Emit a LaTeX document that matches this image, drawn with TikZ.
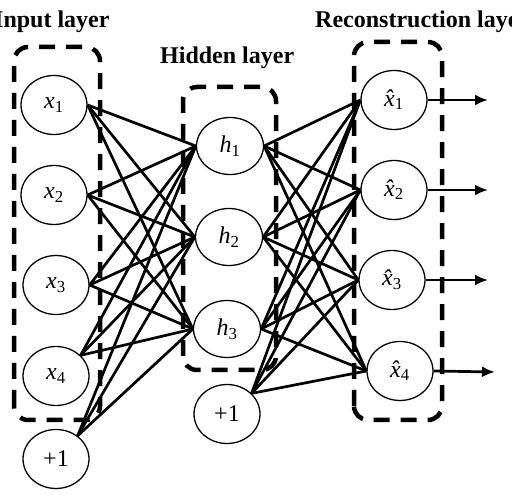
\documentclass[tikz,border=0pt]{standalone}
\usepackage{fontspec}
\setmainfont{Liberation Serif}
\usetikzlibrary{shapes.geometric,arrows.meta}
\newcommand{\hatx}[1]{{\itshape\^{x}}\textsubscript{#1}}
\tikzset{
  neuron/.style={ellipse,draw,line width=1.3pt,fill=white,minimum width=66pt,minimum height=59pt,inner sep=0pt,font=\fontsize{24}{28}\selectfont},
  conn/.style={line width=2.7pt},
  outarrow/.style={line width=2.7pt,-{Latex[length=13pt,width=11pt]}},
  layerbox/.style={line width=4.5pt,dash pattern=on 16pt off 11pt,rounded corners=14pt},
  title/.style={font=\fontsize{24}{28}\selectfont\bfseries,anchor=base west,inner sep=0pt}
}
\begin{document}
\begin{tikzpicture}[x=1pt,y=1pt]
\useasboundingbox (0,0) rectangle (512,496);
% titles
\node[title] (tin) at (-6,468) {Input layer};
\node[title] (thid) at (160,432) {Hidden layer};
\node[title] (trec) at (315,468) {Reconstruction layer};
% nodes
\node[neuron] (x1) at (54,391) {\textit{x}\textsubscript{1}};
\node[neuron] (x2) at (54,301) {\textit{x}\textsubscript{2}};
\node[neuron] (x3) at (56,211) {\textit{x}\textsubscript{3}};
\node[neuron] (x4) at (56,120) {\textit{x}\textsubscript{4}};
\node[neuron] (b1) at (56,37) {+1};
\node[neuron,minimum height=57pt,minimum width=67pt] (h1) at (230,350) {\textit{h}\textsubscript{1}};
\node[neuron,minimum height=57pt,minimum width=67pt] (h2) at (229,259) {\textit{h}\textsubscript{2}};
\node[neuron,minimum height=57pt,minimum width=67pt] (h3) at (227,167) {\textit{h}\textsubscript{3}};
\node[neuron] (b2) at (227,82) {+1};
\node[neuron] (r1) at (394,396) {\hatx{1}};
\node[neuron] (r2) at (394,306) {\hatx{2}};
\node[neuron] (r3) at (392,216) {\hatx{3}};
\node[neuron] (r4) at (400,125) {\hatx{4}};
% connectors input -> hidden
\foreach \h in {h1,h2,h3}{
  \draw[conn] (x1.east) -- (\h.west);
  \draw[conn] (x2.east) -- (\h.west);
  \draw[conn] (x3.east) -- (\h.west);
  \draw[conn] (x4.40) -- (\h.west);
  \draw[conn] (b1.47) -- (\h.west);
}
% hidden -> reconstruction
\foreach \r in {r1,r2,r3,r4}{
  \draw[conn] (h1.east) -- (\r.west);
  \draw[conn] (h2.east) -- (\r.west);
  \draw[conn] (h3.east) -- (\r.west);
  \draw[conn] (b2.40) -- (\r.west);
}
% output arrows
\coordinate (o1) at (488,396);
\coordinate (o2) at (488,306);
\coordinate (o3) at (488,216);
\coordinate (o4) at (495,124);
\draw[outarrow] (r1.east) -- (o1);
\draw[outarrow] (r2.east) -- (o2);
\draw[outarrow] (r3.east) -- (o3);
\draw[outarrow] (r4.east) -- (o4);
% layer boxes
\draw[layerbox] (14,76) rectangle (100,449);
\draw[layerbox] (183,126) rectangle (276,409);
\draw[layerbox] (354,76) rectangle (442,454);
\end{tikzpicture}
\end{document}
